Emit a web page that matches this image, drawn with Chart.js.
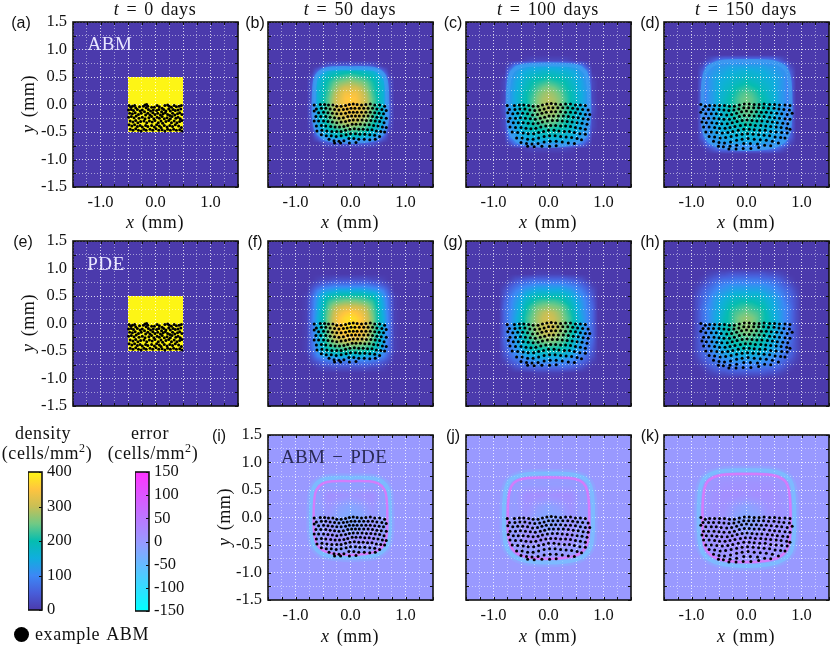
<!DOCTYPE html>
<html>
<head>
<meta charset="UTF-8">
<title>ABM vs PDE density</title>
<script src="https://cdn.jsdelivr.net/npm/chart.js"></script>
<style>
  body { margin: 0; background: #fff; overflow: hidden; }
  #fig { position: relative; width: 830px; height: 646px; overflow: hidden; }
  canvas { position: absolute; }
  .t { position: absolute; transform: translate(-50%, -50%); white-space: nowrap; font-family: "Liberation Serif", serif; font-size: 18px; color: #111; letter-spacing: .6px; word-spacing: 2px; z-index: 5; }
  .p { font-family: "Liberation Sans", sans-serif; font-size: 16px; letter-spacing: 0; }
  .r { transform: translate(-50%, -50%) rotate(-90deg); }
  sup { font-size: 12px; line-height: 0; }
</style>
</head>
<body>
<div id="fig"></div>
<script>
// ticks
const axisTicks = [-1.5,-1.25,-1,-0.75,-0.5,-0.25,0,0.25,0.5,0.75,1,1.25,1.5];
const densityTicks = [0,100,200,300,400];
const errorTicks = [-150,-100,-50,0,50,100,150];

// colour maps
const densityStops = [0,50,100,150,200,250,300,350,400];
const densityColors = [[75,58,172],[72,94,218],[60,136,245],[16,174,222],[5,189,176],[112,201,133],[201,191,85],[255,196,63],[253,245,21]];
const errorStops = [-150,0,150];
const errorColors = [[0,255,255],[153,153,255],[255,51,255]];

// field grids, rows run from top to bottom
const startEdges = [-1.5,-0.5,0.5,1.5];
const startField = [[0,0,0],[0,400,0],[0,0,0]];
const gridAxis = [-0.9,-0.8,-0.7,-0.6,-0.5,-0.4,-0.3,-0.2,-0.1,0,0.1,0.2,0.3,0.4,0.5,0.6,0.7,0.8,0.9];
const errAxis = [-0.8,-0.6,-0.4,-0.2,0,0.2,0.4,0.6,0.8];

const abm50 = [
[0,0,0,0,0,0,0,0,0,0,0,0,0,0,0,0,0,0,0],
[0,0,0,0,0,0,0,0,0,0,0,0,0,0,0,0,0,0,0],
[0,0,0,0,20,40,50,50,50,50,50,50,50,40,20,0,0,0,0],
[0,0,0,60,130,160,170,180,190,190,190,180,170,160,130,60,0,0,0],
[0,0,20,130,170,190,210,220,230,240,230,220,210,190,170,130,20,0,0],
[0,0,40,150,180,210,240,260,270,280,270,260,240,210,180,150,40,0,0],
[0,0,40,160,190,220,260,290,310,310,310,290,260,220,190,160,40,0,0],
[0,0,40,160,190,230,280,310,340,340,340,310,280,230,190,160,40,0,0],
[0,0,40,160,200,240,290,320,350,360,350,320,290,240,200,160,40,0,0],
[0,0,50,160,200,240,290,320,340,350,340,320,290,240,200,160,50,0,0],
[0,0,50,160,200,240,290,320,340,340,340,320,290,240,200,160,50,0,0],
[0,0,50,160,190,230,280,300,320,320,320,300,280,230,190,160,50,0,0],
[0,0,40,150,180,220,260,280,300,300,300,280,260,220,180,150,40,0,0],
[0,0,30,130,170,200,230,250,260,270,260,250,230,200,170,130,30,0,0],
[0,0,10,110,150,170,190,210,220,220,220,210,190,170,150,110,10,0,0],
[0,0,0,50,120,140,150,160,170,170,170,160,150,140,120,50,0,0,0],
[0,0,0,0,20,40,50,50,50,50,50,50,50,40,20,0,0,0,0],
[0,0,0,0,0,0,0,0,0,0,0,0,0,0,0,0,0,0,0],
[0,0,0,0,0,0,0,0,0,0,0,0,0,0,0,0,0,0,0]];
const abm100 = [
[0,0,0,0,0,0,0,0,0,0,0,0,0,0,0,0,0,0,0],
[0,0,0,0,0,10,20,20,20,20,20,20,20,10,0,0,0,0,0],
[0,0,30,90,110,120,130,130,130,130,130,130,130,120,110,90,30,0,0],
[0,0,90,120,140,150,160,160,170,170,170,160,160,150,140,120,90,0,0],
[0,10,110,130,150,170,180,190,190,200,190,190,180,170,150,130,110,10,0],
[0,20,110,140,160,180,200,210,220,230,220,210,200,180,160,140,110,20,0],
[0,20,120,140,170,190,210,230,250,260,250,230,210,190,170,140,120,20,0],
[0,20,120,150,170,200,220,250,270,280,270,250,220,200,170,150,120,20,0],
[0,20,120,150,180,200,230,260,280,290,280,260,230,200,180,150,120,20,0],
[0,30,120,150,180,200,230,260,280,290,280,260,230,200,180,150,120,30,0],
[0,30,120,150,180,200,230,260,280,290,280,260,230,200,180,150,120,30,0],
[0,20,120,150,170,200,220,250,270,270,270,250,220,200,170,150,120,20,0],
[0,20,120,140,170,190,210,230,250,250,250,230,210,190,170,140,120,20,0],
[0,20,110,140,160,180,200,210,220,230,220,210,200,180,160,140,110,20,0],
[0,10,110,130,150,170,180,190,190,200,190,190,180,170,150,130,110,10,0],
[0,0,90,120,140,150,160,160,170,170,170,160,160,150,140,120,90,0,0],
[0,0,30,90,110,120,130,130,130,130,130,130,130,120,110,90,30,0,0],
[0,0,0,0,0,10,20,20,20,20,20,20,20,10,0,0,0,0,0],
[0,0,0,0,0,0,0,0,0,0,0,0,0,0,0,0,0,0,0]];
const abm150 = [
[0,0,0,0,0,0,0,0,0,0,0,0,0,0,0,0,0,0,0],
[0,0,20,50,80,90,90,90,90,90,90,90,90,90,80,50,20,0,0],
[0,20,90,110,120,120,130,130,130,130,130,130,130,120,120,110,90,20,0],
[0,50,110,120,130,140,150,150,160,160,160,150,150,140,130,120,110,50,0],
[0,60,110,130,140,150,160,170,170,180,170,170,160,150,140,130,110,60,0],
[0,70,110,130,150,160,170,180,190,200,190,180,170,160,150,130,110,70,0],
[0,70,110,130,150,170,180,200,210,220,210,200,180,170,150,130,110,70,0],
[0,70,110,130,160,170,190,210,230,240,230,210,190,170,160,130,110,70,0],
[0,70,110,130,160,180,200,220,240,250,240,220,200,180,160,130,110,70,0],
[0,80,110,130,160,180,200,220,240,250,240,220,200,180,160,130,110,80,0],
[0,80,110,130,160,180,200,220,240,250,240,220,200,180,160,130,110,80,0],
[0,70,110,130,160,170,190,210,230,240,230,210,190,170,160,130,110,70,0],
[0,70,110,130,150,170,180,200,210,220,210,200,180,170,150,130,110,70,0],
[0,70,110,130,150,160,170,180,190,200,190,180,170,160,150,130,110,70,0],
[0,60,110,130,140,150,160,170,170,180,170,170,160,150,140,130,110,60,0],
[0,50,110,120,130,140,150,150,160,160,160,150,150,140,130,120,110,50,0],
[0,20,90,110,120,120,130,130,130,130,130,130,130,120,120,110,90,20,0],
[0,0,20,50,80,90,90,90,90,90,90,90,90,90,80,50,20,0,0],
[0,0,0,0,0,0,0,0,0,0,0,0,0,0,0,0,0,0,0]];
const pde50 = [
[0,0,0,0,0,0,0,0,0,0,0,0,0,0,0,0,0,0,0],
[0,0,0,10,20,20,30,30,30,30,30,30,30,20,20,10,0,0,0],
[0,0,20,40,60,70,80,80,80,80,80,80,80,70,60,40,20,0,0],
[0,0,40,90,120,130,140,150,150,150,150,150,140,130,120,90,40,0,0],
[0,10,60,120,160,190,200,210,210,210,210,210,200,190,160,120,60,10,0],
[0,10,70,130,180,220,240,250,260,260,260,250,240,220,180,130,70,10,0],
[0,10,70,140,190,240,280,300,310,310,310,300,280,240,190,140,70,10,0],
[0,10,80,140,200,250,300,330,350,360,350,330,300,250,200,140,80,10,0],
[0,10,80,150,200,260,310,350,370,380,370,350,310,260,200,150,80,10,0],
[0,10,80,150,200,260,310,350,370,380,370,350,310,260,200,150,80,10,0],
[0,10,80,150,200,260,310,350,370,380,370,350,310,260,200,150,80,10,0],
[0,10,80,140,200,250,300,330,350,360,350,330,300,250,200,140,80,10,0],
[0,10,70,140,190,240,280,300,310,310,310,300,280,240,190,140,70,10,0],
[0,10,70,130,180,220,240,250,260,260,260,250,240,220,180,130,70,10,0],
[0,10,60,120,160,190,200,210,210,210,210,210,200,190,160,120,60,10,0],
[0,0,40,90,120,130,140,150,150,150,150,150,140,130,120,90,40,0,0],
[0,0,20,40,60,70,80,80,80,80,80,80,80,70,60,40,20,0,0],
[0,0,0,10,20,20,30,30,30,30,30,30,30,20,20,10,0,0,0],
[0,0,0,0,0,0,0,0,0,0,0,0,0,0,0,0,0,0,0]];
const pde100 = [
[0,0,0,0,0,0,0,10,10,10,10,10,0,0,0,0,0,0,0],
[0,0,10,30,40,50,60,60,60,60,60,60,60,50,40,30,10,0,0],
[0,10,40,60,80,90,100,110,110,110,110,110,100,90,80,60,40,10,0],
[0,30,60,90,110,130,140,150,150,150,150,150,140,130,110,90,60,30,0],
[0,40,80,110,130,160,180,190,190,190,190,190,180,160,130,110,80,40,0],
[0,50,90,120,150,180,200,220,230,230,230,220,200,180,150,120,90,50,0],
[0,60,90,130,160,200,230,250,260,270,260,250,230,200,160,130,90,60,0],
[0,60,100,130,170,210,240,270,290,300,290,270,240,210,170,130,100,60,0],
[0,60,100,140,180,220,250,280,300,310,300,280,250,220,180,140,100,60,0],
[0,60,100,140,180,220,250,280,300,310,300,280,250,220,180,140,100,60,0],
[0,60,100,140,180,220,250,280,300,310,300,280,250,220,180,140,100,60,0],
[0,60,100,130,170,210,240,270,290,300,290,270,240,210,170,130,100,60,0],
[0,60,90,130,160,200,230,250,260,270,260,250,230,200,160,130,90,60,0],
[0,50,90,120,150,180,200,220,230,230,230,220,200,180,150,120,90,50,0],
[0,40,80,110,130,160,180,190,190,190,190,190,180,160,130,110,80,40,0],
[0,30,60,90,110,130,140,150,150,150,150,150,140,130,110,90,60,30,0],
[0,10,40,60,80,90,100,110,110,110,110,110,100,90,80,60,40,10,0],
[0,0,10,30,40,50,60,60,60,60,60,60,60,50,40,30,10,0,0],
[0,0,0,0,0,0,0,10,10,10,10,10,0,0,0,0,0,0,0]];
const pde150 = [
[0,0,10,20,30,30,40,40,40,40,40,40,40,30,30,20,10,0,0],
[0,10,30,50,60,70,70,80,80,80,80,80,70,70,60,50,30,10,0],
[10,30,50,70,90,100,110,110,110,110,110,110,110,100,90,70,50,30,10],
[20,50,70,90,110,120,130,140,140,140,140,140,130,120,110,90,70,50,20],
[30,60,80,110,130,140,160,170,170,170,170,170,160,140,130,110,80,60,30],
[30,60,90,120,140,160,180,190,200,200,200,190,180,160,140,120,90,60,30],
[30,70,100,120,150,170,200,210,220,230,220,210,200,170,150,120,100,70,30],
[30,70,100,130,150,180,210,230,240,250,240,230,210,180,150,130,100,70,30],
[30,70,100,130,160,190,210,240,260,270,260,240,210,190,160,130,100,70,30],
[30,70,100,130,160,190,210,240,260,270,260,240,210,190,160,130,100,70,30],
[30,70,100,130,160,190,210,240,260,270,260,240,210,190,160,130,100,70,30],
[30,70,100,130,150,180,210,230,240,250,240,230,210,180,150,130,100,70,30],
[30,70,100,120,150,170,200,210,220,230,220,210,200,170,150,120,100,70,30],
[30,60,90,120,140,160,180,190,200,200,200,190,180,160,140,120,90,60,30],
[30,60,80,110,130,140,160,170,170,170,170,170,160,140,130,110,80,60,30],
[20,50,70,90,110,120,130,140,140,140,140,140,130,120,110,90,70,50,20],
[10,30,50,70,90,100,110,110,110,110,110,110,110,100,90,70,50,30,10],
[0,10,30,50,60,70,70,80,80,80,80,80,70,70,60,50,30,10,0],
[0,0,10,20,30,30,40,40,40,40,40,40,40,30,30,20,10,0,0]];
const err50 = [
[0,0,0,0,0,0,0,0,0],
[0,0,-10,-10,-10,-10,-10,0,0],
[0,-10,15,10,5,10,15,-10,0],
[0,-10,5,-10,-20,-10,5,-10,0],
[0,-10,0,-20,-25,-20,0,-10,0],
[0,-10,5,-10,-20,-10,5,-10,0],
[0,-10,15,10,5,10,15,-10,0],
[0,0,-10,-10,-10,-10,-10,0,0],
[0,0,0,0,0,0,0,0,0]];
const err100 = [
[0,0,0,0,0,0,0,0,0],
[0,-5,-5,-5,-5,-5,-5,-5,0],
[0,-5,15,15,10,15,15,-5,0],
[0,-5,10,-5,-15,-5,10,-5,0],
[0,-5,5,-15,-20,-15,5,-5,0],
[0,-5,10,-5,-15,-5,10,-5,0],
[0,-5,15,15,10,15,15,-5,0],
[0,-5,-5,-5,-5,-5,-5,-5,0],
[0,0,0,0,0,0,0,0,0]];
const err150 = [
[0,0,0,0,0,0,0,0,0],
[0,5,10,10,10,10,10,5,0],
[0,10,15,15,10,15,15,10,0],
[0,10,10,-5,-15,-5,10,10,0],
[0,10,5,-15,-20,-15,5,10,0],
[0,10,10,-5,-15,-5,10,10,0],
[0,10,15,15,10,15,15,10,0],
[0,5,10,10,10,10,10,5,0],
[0,0,0,0,0,0,0,0,0]];

// edge contours seen in the error panels
const magenta50 = [[0,.66],[.3,.66],[.5,.62],[.62,.5],[.66,.3],[.67,0],[.66,-.3],[.6,-.5],[.45,-.62],[.2,-.67],[0,-.68],[-.2,-.67],[-.45,-.62],[-.6,-.5],[-.66,-.3],[-.67,0],[-.66,.3],[-.62,.5],[-.5,.62],[-.3,.66],[0,.66]];
const cyan50 = [[0,.72],[.3,.72],[.54,.67],[.67,.54],[.71,.3],[.72,0],[.71,-.3],[.65,-.54],[.49,-.67],[.2,-.72],[0,-.73],[-.2,-.72],[-.49,-.67],[-.65,-.54],[-.71,-.3],[-.72,0],[-.71,.3],[-.67,.54],[-.54,.67],[-.3,.72],[0,.72]];
const magenta100 = [[0,.73],[.35,.72],[.57,.67],[.68,.56],[.73,.32],[.74,0],[.73,-.32],[.67,-.55],[.5,-.69],[.22,-.74],[0,-.75],[-.22,-.74],[-.5,-.69],[-.67,-.55],[-.73,-.32],[-.74,0],[-.73,.32],[-.68,.56],[-.57,.67],[-.35,.72],[0,.73]];
const cyan100 = [[0,.8],[.37,.79],[.62,.73],[.75,.6],[.8,.34],[.81,0],[.8,-.34],[.74,-.59],[.55,-.75],[.24,-.81],[0,-.82],[-.24,-.81],[-.55,-.75],[-.74,-.59],[-.8,-.34],[-.81,0],[-.8,.34],[-.75,.6],[-.62,.73],[-.37,.79],[0,.8]];
const magenta150 = [[0,.79],[.38,.78],[.62,.72],[.74,.6],[.79,.34],[.8,0],[.79,-.34],[.73,-.59],[.55,-.74],[.24,-.8],[0,-.81],[-.24,-.8],[-.55,-.74],[-.73,-.59],[-.79,-.34],[-.8,0],[-.79,.34],[-.74,.6],[-.62,.72],[-.38,.78],[0,.79]];
const cyan150 = [[0,.86],[.4,.85],[.67,.78],[.81,.64],[.86,.36],[.87,0],[.86,-.36],[.8,-.63],[.6,-.8],[.26,-.87],[0,-.88],[-.26,-.87],[-.6,-.8],[-.8,-.63],[-.86,-.36],[-.87,0],[-.86,.36],[-.81,.64],[-.67,.78],[-.4,.85],[0,.86]];

// example ABM cells
const dots0 = [[-.48,-.02],[-.45,-.05],[-.42,-.03],[-.38,-.02],[-.36,-.06],[-.29,-.04],[-.22,-.03],[-.19,-.01],[-.16,0],[-.14,-.03],[-.17,-.06],[-.07,-.05],[-.02,-.05],[.03,-.02],[.07,-.04],[.12,-.07],[.17,-.02],[.22,-.01],[.25,-.03],[.29,-.05],[.34,-.02],[.38,-.04],[.43,-.03],[.47,-.02],
[-.49,-.1],[-.44,-.09],[-.4,-.11],[-.33,-.09],[-.28,-.12],[-.24,-.1],[-.2,-.13],[-.13,-.09],[-.09,-.12],[-.04,-.1],[.02,-.11],[.06,-.09],[.11,-.13],[.15,-.09],[.19,-.12],[.24,-.08],[.27,-.12],[.32,-.09],[.36,-.11],[.41,-.1],[.46,-.08],
[-.47,-.16],[-.42,-.17],[-.37,-.15],[-.31,-.18],[-.26,-.16],[-.18,-.19],[-.14,-.16],[-.1,-.19],[-.05,-.15],[-.01,-.18],[.04,-.16],[.09,-.19],[.14,-.17],[.18,-.15],[.22,-.18],[.26,-.2],[.31,-.16],[.35,-.19],[.4,-.17],[.44,-.15],[.48,-.18],
[-.49,-.23],[-.44,-.22],[-.39,-.24],[-.35,-.21],[-.3,-.25],[-.24,-.23],[-.19,-.26],[-.12,-.24],[-.07,-.22],[-.03,-.26],[.03,-.23],[.07,-.25],[.12,-.22],[.16,-.26],[.21,-.24],[.27,-.26],[.3,-.22],[.37,-.25],[.41,-.23],[.45,-.26],
[-.46,-.3],[-.41,-.32],[-.36,-.29],[-.32,-.33],[-.27,-.31],[-.21,-.3],[-.16,-.33],[-.11,-.3],[-.06,-.32],[-.01,-.29],[.05,-.33],[.1,-.3],[.13,-.34],[.19,-.31],[.24,-.29],[.29,-.33],[.34,-.3],[.39,-.33],[.44,-.31],[.48,-.29],
[-.48,-.37],[-.43,-.39],[-.38,-.37],[-.33,-.4],[-.28,-.38],[-.24,-.41],[-.18,-.38],[-.14,-.4],[-.07,-.38],[-.02,-.41],[.02,-.37],[.07,-.39],[.1,-.42],[.16,-.38],[.21,-.41],[.26,-.38],[.31,-.4],[.36,-.37],[.42,-.39],[.47,-.42],
[-.46,-.45],[-.41,-.47],[-.36,-.44],[-.31,-.47],[-.26,-.48],[-.21,-.45],[-.17,-.47],[-.1,-.45],[-.05,-.47],[.01,-.44],[.06,-.47],[.12,-.46],[.17,-.48],[.22,-.45],[.27,-.47],[.33,-.45],[.38,-.47],[.44,-.46],[.48,-.48]];
const dots50 = [[-.66,-.01],[-.55,0],[-.47,0],[-.4,-.01],[-.32,-.01],[-.25,-.03],[-.17,-.03],[-.09,-.02],[-.02,0],[.05,.01],[.12,0],[.2,-.01],[.28,0],[.36,.01],[.44,-.01],[.53,-.01],[.62,-.03],
[-.62,-.08],[-.53,-.07],[-.45,-.07],[-.37,-.08],[-.29,-.09],[-.21,-.1],[-.13,-.09],[-.06,-.08],[.01,-.07],[.08,-.07],[.16,-.07],[.24,-.07],[.32,-.07],[.4,-.07],[.48,-.08],[.57,-.09],[.65,-.11],
[-.66,-.12],[-.58,-.15],[-.49,-.14],[-.41,-.15],[-.33,-.16],[-.25,-.17],[-.17,-.17],[-.09,-.16],[-.02,-.14],[.05,-.14],[.12,-.14],[.2,-.14],[.28,-.14],[.36,-.14],[.44,-.15],[.52,-.16],[.6,-.17],
[-.63,-.22],[-.54,-.22],[-.45,-.22],[-.37,-.23],[-.29,-.24],[-.21,-.25],[-.13,-.24],[-.05,-.22],[.02,-.21],[.09,-.21],[.16,-.21],[.24,-.21],[.32,-.21],[.4,-.22],[.48,-.23],[.56,-.24],[.65,-.25],
[-.66,-.3],[-.58,-.3],[-.49,-.3],[-.41,-.31],[-.33,-.32],[-.25,-.33],[-.17,-.32],[-.09,-.31],[-.02,-.29],[.05,-.28],[.13,-.28],[.21,-.28],[.29,-.29],[.37,-.29],[.45,-.3],[.53,-.31],[.61,-.33],
[-.62,-.39],[-.53,-.38],[-.45,-.39],[-.36,-.4],[-.28,-.41],[-.2,-.41],[-.12,-.4],[-.05,-.38],[.03,-.36],[.1,-.36],[.18,-.36],[.26,-.37],[.34,-.37],[.42,-.38],[.5,-.39],[.58,-.41],[.65,-.42],
[-.61,-.48],[-.52,-.47],[-.43,-.48],[-.34,-.49],[-.25,-.49],[-.17,-.49],[-.09,-.47],[-.01,-.45],[.07,-.44],[.15,-.45],[.23,-.45],[.31,-.46],[.39,-.46],[.47,-.48],[.55,-.49],[.62,-.5],
[-.53,-.55],[-.44,-.57],[-.35,-.57],[-.26,-.58],[-.17,-.57],[-.08,-.55],[0,-.53],[.09,-.53],[.17,-.54],[.26,-.54],[.35,-.55],[.44,-.56],[.53,-.58],
[-.39,-.63],[-.3,-.66],[-.21,-.67],[-.12,-.66],[-.03,-.62],[.06,-.62],[.15,-.63],[.25,-.63],[.35,-.64],[.45,-.63],
[-.29,-.7],[-.18,-.7],[-.02,-.7],[.1,-.69]];
const dots100 = [[-.75,-.02],[-.62,-.02],[-.53,-.01],[-.45,-.01],[-.36,-.02],[-.28,-.03],[-.19,-.03],[-.11,-.01],[-.03,.01],[.05,.02],[.13,.01],[.22,0],[.31,.01],[.4,.01],[.49,-.01],[.58,-.01],[.67,-.02],
[-.71,-.09],[-.61,-.09],[-.52,-.08],[-.43,-.08],[-.34,-.1],[-.25,-.11],[-.16,-.1],[-.08,-.08],[0,-.06],[.08,-.06],[.17,-.06],[.26,-.06],[.35,-.06],[.44,-.07],[.53,-.08],[.62,-.09],[.72,-.1],
[-.74,-.15],[-.65,-.17],[-.56,-.16],[-.47,-.16],[-.38,-.17],[-.29,-.19],[-.2,-.18],[-.12,-.16],[-.04,-.14],[.05,-.13],[.13,-.13],[.22,-.13],[.31,-.14],[.4,-.14],[.49,-.15],[.58,-.17],[.67,-.18],[.75,-.18],
[-.7,-.25],[-.6,-.25],[-.51,-.24],[-.42,-.25],[-.33,-.26],[-.24,-.27],[-.15,-.25],[-.07,-.23],[.01,-.21],[.09,-.21],[.18,-.21],[.27,-.21],[.36,-.22],[.45,-.23],[.54,-.24],[.63,-.26],[.72,-.27],
[-.73,-.31],[-.64,-.33],[-.55,-.33],[-.46,-.33],[-.37,-.34],[-.28,-.35],[-.19,-.34],[-.11,-.32],[-.02,-.3],[.07,-.29],[.16,-.29],[.25,-.3],[.34,-.31],[.43,-.32],[.52,-.33],[.61,-.34],[.7,-.36],
[-.7,-.41],[-.6,-.42],[-.5,-.42],[-.41,-.43],[-.32,-.44],[-.23,-.43],[-.14,-.41],[-.05,-.39],[.04,-.38],[.13,-.38],[.22,-.39],[.31,-.39],[.4,-.4],[.49,-.42],[.58,-.43],[.67,-.45],
[-.66,-.5],[-.56,-.51],[-.46,-.52],[-.37,-.53],[-.27,-.53],[-.18,-.51],[-.09,-.49],[0,-.47],[.1,-.47],[.19,-.48],[.29,-.49],[.38,-.49],[.47,-.51],[.57,-.53],[.67,-.54],
[-.58,-.61],[-.48,-.61],[-.38,-.63],[-.28,-.63],[-.18,-.61],[-.08,-.58],[.02,-.57],[.12,-.57],[.22,-.58],[.32,-.59],[.42,-.6],[.52,-.62],[.6,-.64],
[-.5,-.69],[-.4,-.71],[-.3,-.72],[-.19,-.71],[-.08,-.68],[.03,-.67],[.14,-.67],[.25,-.68],[.36,-.7],[.47,-.71],
[-.38,-.76],[-.26,-.77],[-.12,-.76],[.02,-.76],[.14,-.75]];
const dots150 = [[-.83,0],[-.75,-.03],[-.67,-.02],[-.58,-.02],[-.49,-.02],[-.4,-.02],[-.31,-.03],[-.22,-.03],[-.13,-.01],[-.04,.01],[.05,.01],[.14,0],[.23,0],[.32,.01],[.42,0],[.51,0],[.6,-.01],[.7,-.01],[.79,-.02],
[-.79,-.09],[-.69,-.09],[-.6,-.09],[-.5,-.09],[-.41,-.1],[-.32,-.11],[-.23,-.1],[-.14,-.08],[-.05,-.06],[.04,-.06],[.13,-.06],[.22,-.06],[.31,-.06],[.4,-.07],[.5,-.07],[.59,-.08],[.68,-.09],[.78,-.1],
[-.83,-.14],[-.74,-.17],[-.64,-.17],[-.55,-.17],[-.46,-.18],[-.36,-.19],[-.27,-.18],[-.18,-.16],[-.09,-.13],[0,-.12],[.09,-.13],[.18,-.13],[.27,-.14],[.36,-.14],[.45,-.15],[.55,-.16],[.64,-.17],[.74,-.18],[.83,-.16],
[-.78,-.25],[-.69,-.25],[-.59,-.25],[-.5,-.26],[-.41,-.27],[-.31,-.27],[-.22,-.25],[-.13,-.22],[-.04,-.2],[.05,-.2],[.14,-.21],[.23,-.21],[.32,-.22],[.42,-.23],[.51,-.24],[.6,-.25],[.7,-.26],[.79,-.27],
[-.81,-.32],[-.73,-.33],[-.63,-.33],[-.54,-.34],[-.45,-.35],[-.35,-.35],[-.26,-.33],[-.17,-.31],[-.08,-.29],[.01,-.28],[.1,-.29],[.19,-.3],[.28,-.3],[.38,-.31],[.47,-.32],[.56,-.33],[.66,-.34],[.75,-.35],
[-.78,-.41],[-.68,-.41],[-.58,-.42],[-.49,-.43],[-.39,-.43],[-.3,-.42],[-.21,-.4],[-.11,-.38],[-.02,-.37],[.07,-.37],[.16,-.38],[.26,-.38],[.35,-.39],[.44,-.4],[.54,-.41],[.63,-.42],[.73,-.43],[.79,-.45],
[-.74,-.5],[-.64,-.5],[-.54,-.51],[-.44,-.52],[-.34,-.51],[-.25,-.49],[-.15,-.47],[-.05,-.45],[.05,-.45],[.14,-.46],[.24,-.47],[.34,-.47],[.44,-.49],[.54,-.5],[.64,-.51],[.74,-.52],
[-.68,-.58],[-.58,-.59],[-.48,-.61],[-.38,-.6],[-.28,-.58],[-.18,-.56],[-.08,-.54],[.02,-.53],[.12,-.54],[.22,-.55],[.32,-.56],[.42,-.57],[.52,-.59],[.62,-.6],[.7,-.61],
[-.6,-.67],[-.5,-.69],[-.4,-.7],[-.29,-.68],[-.18,-.65],[-.08,-.63],[.03,-.62],[.14,-.63],[.25,-.64],[.36,-.65],[.47,-.67],[.58,-.7],
[-.51,-.76],[-.42,-.77],[-.3,-.76],[-.18,-.74],[-.05,-.71],[.07,-.71],[.2,-.72],[.33,-.74],[.44,-.75],
[-.32,-.81],[-.19,-.81],[-.06,-.8],[.08,-.8],[.22,-.78]];

const fig = document.getElementById('fig');
const PW = 165, PH = 165, PAD_L = 52, PAD_T = 10, PAD_B = 30;

function colorAt(v, stops, colors) {
  if (v <= stops[0]) return colors[0];
  for (let i = 1; i < stops.length; i++) {
    if (v <= stops[i]) {
      const f = (v - stops[i-1]) / (stops[i] - stops[i-1]);
      const a = colors[i-1], b = colors[i];
      return [a[0]+(b[0]-a[0])*f, a[1]+(b[1]-a[1])*f, a[2]+(b[2]-a[2])*f];
    }
  }
  return colors[colors.length-1];
}

// smooth value from a grid of nodes, 0 outside of it
function nodeValue(field, axis, x, y) {
  const step = axis[1] - axis[0], n = axis.length;
  const fx = (x - axis[0]) / step, fy = (axis[n-1] - y) / step;
  const c = Math.floor(fx), r = Math.floor(fy);
  const get = (rr, cc) => (rr < 0 || cc < 0 || rr >= n || cc >= n) ? 0 : field[rr][cc];
  const tx = fx - c, ty = fy - r;
  return (get(r,c)*(1-tx) + get(r,c+1)*tx)*(1-ty) + (get(r+1,c)*(1-tx) + get(r+1,c+1)*tx)*ty;
}

// flat value from cells between edges
function cellValue(field, edges, x, y) {
  let c = 0, r = 0;
  while (c < edges.length-2 && x >= edges[c+1]) c++;
  while (r < edges.length-2 && -y >= edges[r+1]) r++;
  return field[r][c];
}

function heatPlugin(valueAt, stops, colors) {
  return {
    id: 'heat',
    beforeDraw(chart) {
      const { ctx, chartArea: a, scales } = chart;
      const w = Math.round(a.right - a.left), h = Math.round(a.bottom - a.top);
      const off = document.createElement('canvas');
      off.width = w; off.height = h;
      const oc = off.getContext('2d');
      const img = oc.createImageData(w, h);
      for (let j = 0; j < h; j++) {
        const y = scales.y.getValueForPixel(a.top + j + 0.5);
        for (let i = 0; i < w; i++) {
          const x = scales.x.getValueForPixel(a.left + i + 0.5);
          const col = colorAt(valueAt(x, y), stops, colors);
          const k = (j*w + i)*4;
          img.data[k] = col[0]; img.data[k+1] = col[1]; img.data[k+2] = col[2]; img.data[k+3] = 255;
        }
      }
      oc.putImageData(img, 0, 0);
      ctx.drawImage(off, a.left, a.top);
    }
  };
}

// black box with inward ticks on all sides
const framePlugin = {
  id: 'frame',
  afterDraw(chart) {
    const { ctx, chartArea: a, scales } = chart;
    ctx.save();
    ctx.strokeStyle = '#111';
    ctx.lineWidth = 1;
    ctx.beginPath();
    scales.x.ticks.forEach(t => {
      const p = Math.round(scales.x.getPixelForValue(t.value)) + 0.5;
      ctx.moveTo(p, a.top); ctx.lineTo(p, a.top + 3);
      ctx.moveTo(p, a.bottom); ctx.lineTo(p, a.bottom - 3);
    });
    scales.y.ticks.forEach(t => {
      const p = Math.round(scales.y.getPixelForValue(t.value)) + 0.5;
      ctx.moveTo(a.left, p); ctx.lineTo(a.left + 3, p);
      ctx.moveTo(a.right, p); ctx.lineTo(a.right - 3, p);
    });
    ctx.stroke();
    ctx.lineWidth = 1.6;
    ctx.strokeRect(a.left, a.top, a.right - a.left, a.bottom - a.top);
    ctx.restore();
  }
};

const tickFont = { family: '"Liberation Serif", serif', size: 16.5 };
const toPts = list => list.map(([x, y]) => ({ x, y }));
const noPad = s => { s.paddingTop = s.paddingBottom = s.paddingLeft = s.paddingRight = 0; };

function panel(left, top, opt) {
  const cv = document.createElement('canvas');
  cv.width = PAD_L + PW + 1; cv.height = PAD_T + PH + PAD_B;
  cv.style.left = (left - PAD_L) + 'px'; cv.style.top = (top - PAD_T) + 'px';
  fig.appendChild(cv);
  const datasets = [{ data: toPts(opt.dots), backgroundColor: '#000', borderWidth: 0, pointRadius: 1.5 }];
  if (opt.edge) {
    datasets.push({ data: toPts(opt.edge), showLine: true, tension: 0.4, pointRadius: 0, borderColor: opt.edgeColor, borderWidth: 4 });
  }
  if (opt.magenta) {
    datasets.push({ data: toPts(opt.magenta), showLine: true, tension: 0.4, pointRadius: 0, borderColor: 'rgba(228,115,250,0.8)', borderWidth: 2.5 });
    datasets.push({ data: toPts(opt.cyan), showLine: true, tension: 0.4, pointRadius: 0, borderColor: 'rgba(110,205,255,0.55)', borderWidth: 4 });
    datasets.push({ data: toPts(opt.cyan), showLine: true, tension: 0.4, pointRadius: 0, borderColor: 'rgba(110,205,255,0.2)', borderWidth: 9 });
  }
  const gridColor = c => (c.tick && c.tick.value % 0.5 === 0) ? 'rgba(255,255,255,0.8)' : 'rgba(255,255,255,0.5)';
  new Chart(cv, {
    type: 'scatter',
    data: { datasets },
    options: {
      responsive: false, animation: false, devicePixelRatio: 1,
      layout: { autoPadding: false, padding: { top: PAD_T, right: 1, left: 0, bottom: 0 } },
      plugins: { legend: { display: false }, tooltip: { enabled: false } },
      scales: {
        x: {
          type: 'linear', min: -1.5, max: 1.5,
          afterBuildTicks: s => { s.ticks = axisTicks.map(value => ({ value })); },
          afterFit: s => { s.height = PAD_B; noPad(s); },
          grid: { color: gridColor, drawTicks: false, lineWidth: 1 },
          border: { display: false, dash: [1, 2] },
          ticks: { display: !!opt.xLabels, autoSkip: false, maxRotation: 0, color: '#111', font: tickFont, padding: 6,
            callback: v => v % 1 === 0 ? v.toFixed(1) : '' }
        },
        y: {
          type: 'linear', min: -1.5, max: 1.5,
          afterBuildTicks: s => { s.ticks = axisTicks.map(value => ({ value })); },
          afterFit: s => { s.width = PAD_L; noPad(s); },
          grid: { color: gridColor, drawTicks: false, lineWidth: 1 },
          border: { display: false, dash: [1, 2] },
          ticks: { display: !!opt.yLabels, autoSkip: false, color: '#111', font: tickFont, padding: 6,
            callback: v => v % 0.5 === 0 ? v.toFixed(1) : '' }
        }
      }
    },
    plugins: [opt.heat, framePlugin]
  });
}

function colorbar(left, top, height, stops, colors, ticks) {
  const cv = document.createElement('canvas');
  cv.width = 14 + 45; cv.height = height + 20;
  cv.style.left = left + 'px'; cv.style.top = (top - 10) + 'px';
  fig.appendChild(cv);
  new Chart(cv, {
    type: 'scatter',
    data: { datasets: [] },
    options: {
      responsive: false, animation: false, devicePixelRatio: 1,
      layout: { autoPadding: false, padding: { top: 10, bottom: 10 } },
      plugins: { legend: { display: false }, tooltip: { enabled: false } },
      scales: {
        x: { display: false, min: 0, max: 1 },
        y: {
          position: 'right', min: stops[0], max: stops[stops.length-1],
          afterBuildTicks: s => { s.ticks = ticks.map(value => ({ value })); },
          afterFit: s => { s.width = 45; noPad(s); },
          grid: { display: false, drawTicks: false },
          border: { display: false },
          ticks: { autoSkip: false, color: '#111', font: tickFont, padding: 5 }
        }
      }
    },
    plugins: [{
      id: 'bar',
      afterDraw(chart) {
        const { ctx, chartArea: a, scales } = chart;
        const g = ctx.createLinearGradient(0, a.bottom, 0, a.top);
        stops.forEach((s, i) => {
          g.addColorStop((scales.y.getPixelForValue(s) - a.bottom) / (a.top - a.bottom), 'rgb(' + colors[i].join(',') + ')');
        });
        ctx.fillStyle = g;
        ctx.fillRect(a.left, a.top, a.right - a.left, a.bottom - a.top);
        ctx.strokeStyle = '#111';
        ctx.lineWidth = 1;
        ctx.beginPath();
        ticks.forEach(t => {
          const p = Math.round(scales.y.getPixelForValue(t)) + 0.5;
          ctx.moveTo(a.right, p); ctx.lineTo(a.right - 3, p);
        });
        ctx.stroke();
        ctx.lineWidth = 1.6;
        ctx.strokeRect(a.left, a.top, a.right - a.left, a.bottom - a.top);
      }
    }]
  });
}

function text(html, x, y, cls, style) {
  const d = document.createElement('div');
  d.className = 't ' + (cls || '');
  d.innerHTML = html;
  d.style.left = x + 'px'; d.style.top = y + 'px';
  if (style) d.style.cssText += style;
  fig.appendChild(d);
}

const density = (field) => heatPlugin((x, y) => nodeValue(field, gridAxis, x, y), densityStops, densityColors);
const errors = (field) => heatPlugin((x, y) => nodeValue(field, errAxis, x, y), errorStops, errorColors);
const start = () => heatPlugin((x, y) => cellValue(startField, startEdges, x, y), densityStops, densityColors);

const cols = [73, 268, 466, 664];
const rows = [22, 241, 435];
const rimBlue = 'rgba(60,160,240,0.7)';

panel(cols[0], rows[0], { heat: start(), dots: dots0, xLabels: true, yLabels: true });
panel(cols[1], rows[0], { heat: density(abm50), dots: dots50, xLabels: true, edge: magenta50, edgeColor: rimBlue });
panel(cols[2], rows[0], { heat: density(abm100), dots: dots100, xLabels: true, edge: magenta100, edgeColor: rimBlue });
panel(cols[3], rows[0], { heat: density(abm150), dots: dots150, xLabels: true, edge: magenta150, edgeColor: rimBlue });
panel(cols[0], rows[1], { heat: start(), dots: dots0, yLabels: true });
panel(cols[1], rows[1], { heat: density(pde50), dots: dots50 });
panel(cols[2], rows[1], { heat: density(pde100), dots: dots100 });
panel(cols[3], rows[1], { heat: density(pde150), dots: dots150 });
panel(cols[1], rows[2], { heat: errors(err50), dots: dots50, xLabels: true, yLabels: true, magenta: magenta50, cyan: cyan50 });
panel(cols[2], rows[2], { heat: errors(err100), dots: dots100, xLabels: true, magenta: magenta100, cyan: cyan100 });
panel(cols[3], rows[2], { heat: errors(err150), dots: dots150, xLabels: true, magenta: magenta150, cyan: cyan150 });

colorbar(28, 472, 138, densityStops, densityColors, densityTicks);
colorbar(135, 472, 139, errorStops, errorColors, errorTicks);

// titles
[['0',155],['50',350],['100',548],['150',746]].forEach(([d, x]) => text('<i>t</i> = ' + d + ' days', x, 9));
// x and y axis names
[155,350,548,746].forEach(x => text('<i>x</i> (mm)', x, 222));
[350,548,746].forEach(x => text('<i>x</i> (mm)', x, 636));
text('<i>y</i> (mm)', 28, 104, 'r');
text('<i>y</i> (mm)', 28, 323, 'r');
text('<i>y</i> (mm)', 224, 517, 'r');
// panel letters
[['(a)',21,23],['(b)',255,23],['(c)',453,23],['(d)',650,23],['(e)',23,242],['(f)',255,242],['(g)',453,242],['(h)',650,242],['(i)',219,436],['(j)',453,436],['(k)',650,436]]
  .forEach(([s, x, y]) => text(s, x, y, 'p'));
// in-panel names
text('ABM', 110, 44, '', 'color:#e8e6ff;font-size:19px;');
text('PDE', 106, 264, '', 'color:#e8e6ff;font-size:19px;');
text('ABM − PDE', 334, 457, '', 'color:#2a2a55;font-size:19px;letter-spacing:.3px;');
// colour bar names and marker
text('density', 43, 433);
text('(cells/mm<sup>2</sup>)', 47, 453);
text('error', 150, 433);
text('(cells/mm<sup>2</sup>)', 153, 453);
text('example ABM', 92, 634);
const mark = document.createElement('div');
mark.style.cssText = 'position:absolute;left:14px;top:627px;width:15px;height:15px;border-radius:50%;background:#000;';
fig.appendChild(mark);
</script>
</body>
</html>
